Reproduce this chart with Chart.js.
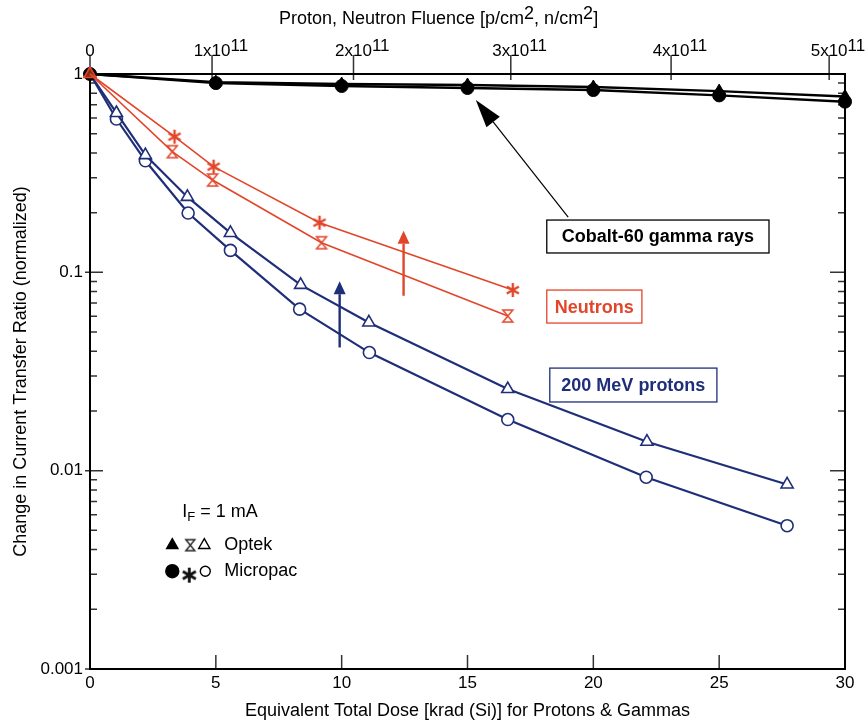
<!DOCTYPE html>
<html><head><meta charset="utf-8">
<script src="https://cdn.jsdelivr.net/npm/chart.js@4.4.0/dist/chart.umd.min.js"></script>
<style>html,body{margin:0;padding:0;background:#fff}#wrap{width:866px;height:723px}</style>
</head><body><div id="wrap"><canvas id="c" width="866" height="723"></canvas></div>
<script>
// ---------- data ----------
const doseTicks = [0, 5, 10, 15, 20, 25, 30];
const fluenceLabels = ['0', '1x10^11', '2x10^11', '3x10^11', '4x10^11', '5x10^11'];
const fluenceTickDose = [0, 4.85, 10.47, 16.72, 23.09, 29.37];
const ratioTicks = [1, 0.1, 0.01, 0.001];

const cobaltDose = [0, 5, 10, 15, 20, 25, 30];
const cobaltOptek = [1, 0.91, 0.89, 0.88, 0.86, 0.82, 0.77];
const cobaltMicropac = [1, 0.90, 0.87, 0.85, 0.83, 0.78, 0.725];

const neutronOptekDose = [0, 3.27, 4.87, 9.2, 16.6];
const neutronOptek = [1, 0.406, 0.292, 0.141, 0.0602];
const neutronMicropacDose = [0, 3.36, 4.91, 9.12, 16.8];
const neutronMicropac = [1, 0.483, 0.341, 0.178, 0.0814];

const protonOptekDose = [0, 1.05, 2.2, 3.87, 5.58, 8.37, 11.08, 16.6, 22.13, 27.7];
const protonOptek = [1, 0.636, 0.39, 0.24, 0.158, 0.0864, 0.0559, 0.0258, 0.0140, 0.00852];
const protonMicropacDose = [0, 1.05, 2.2, 3.9, 5.58, 8.33, 11.1, 16.6, 22.1, 27.7];
const protonMicropac = [1, 0.593, 0.365, 0.199, 0.129, 0.0652, 0.0394, 0.0181, 0.00927, 0.00528];

const topTitle = 'Proton, Neutron Fluence [p/cm^2, n/cm^2]';

// ---------- styles ----------
const FONT = "'Liberation Sans', Arial, Helvetica, sans-serif";
const RED = '#E2462A', BLUE = '#1F2E78', BLACK = '#000';

function pts(xs, ys) { return xs.map((x, i) => ({x: x, y: ys[i]})); }

function makeHourglass(color, w, h, lw) {
  const c = document.createElement('canvas');
  c.width = w + 4; c.height = h + 4;
  const g = c.getContext('2d');
  g.strokeStyle = color; g.lineWidth = lw; g.lineJoin = 'miter';
  const l = 2, r = w + 2, t = 2, b = h + 2;
  g.beginPath(); g.moveTo(l, t); g.lineTo(r, t); g.lineTo(l, b); g.lineTo(r, b); g.closePath(); g.stroke();
  return c;
}
function makeAsterisk(color, r, lw) {
  const s = Math.ceil(r * 2 + 4);
  const c = document.createElement('canvas');
  c.width = s; c.height = s;
  const g = c.getContext('2d');
  g.strokeStyle = color; g.lineWidth = lw; g.lineCap = 'butt';
  const cx = s / 2, cy = s / 2;
  g.beginPath();
  [90, 30, 150].forEach(a => {
    const rad = a * Math.PI / 180;
    g.moveTo(cx - r * Math.cos(rad), cy - r * Math.sin(rad));
    g.lineTo(cx + r * Math.cos(rad), cy + r * Math.sin(rad));
  });
  g.stroke();
  return c;
}
const hourRed = makeHourglass(RED, 10, 12, 1.5);
const starRed = makeAsterisk(RED, 7, 2.4);
const hourBlack = makeHourglass('#222', 9, 11, 1.4);
const starBlack = makeAsterisk('#111', 7.5, 2.8);

Chart.defaults.font.family = FONT;
Chart.defaults.color = '#000';

// draw "a^b" style text with raised same-size superscripts; align: 'base-center' centers the first base part
function drawSup(ctx, str, x, y, size, mode) {
  const parts = [];
  str.split(/(\^\d+)/).forEach(p => { if (p) parts.push(p[0] === '^' ? {t: p.slice(1), sup: true} : {t: p, sup: false}); });
  ctx.font = size + 'px ' + FONT;
  const widths = parts.map(p => ctx.measureText(p.t).width);
  const total = widths.reduce((a, b) => a + b, 0);
  let cx;
  if (mode === 'base') cx = x - widths[0] / 2; else cx = x - total / 2;
  ctx.textAlign = 'left'; ctx.textBaseline = 'middle';
  parts.forEach((p, i) => { ctx.fillText(p.t, cx, p.sup ? y - 5 : y); cx += widths[i]; });
}

// ---------- plugins ----------
const framePlugin = {
  id: 'frame',
  beforeDatasetsDraw(chart) {
    const {ctx, chartArea: a, scales} = chart;
    const x = scales.x, x2 = scales.x2, y = scales.y;
    ctx.save();
    ctx.strokeStyle = '#333'; ctx.lineWidth = 1.5;
    ctx.beginPath();
    doseTicks.forEach(v => { const p = x.getPixelForValue(v); ctx.moveTo(p, a.bottom); ctx.lineTo(p, a.bottom - 14); });
    fluenceTickDose.forEach(v => { const p = x2.getPixelForValue(v); ctx.moveTo(p, a.top - 19); ctx.lineTo(p, a.top + 6); });
    ratioTicks.forEach(v => {
      const p = y.getPixelForValue(v);
      ctx.moveTo(a.left - 5, p); ctx.lineTo(a.left + 13, p);
      ctx.moveTo(a.right - 15, p); ctx.lineTo(a.right, p);
    });
    [0.001, 0.01, 0.1].forEach(d => {
      for (let m = 2; m <= 9; m++) {
        const p = y.getPixelForValue(m * d);
        ctx.moveTo(a.left, p); ctx.lineTo(a.left + 7, p);
        ctx.moveTo(a.right - 7, p); ctx.lineTo(a.right, p);
      }
    });
    ctx.stroke();
    ctx.strokeStyle = '#000'; ctx.lineWidth = 2;
    ctx.strokeRect(a.left, a.top, a.width, a.height);
    // top (fluence) tick labels and title with superscripts
    ctx.fillStyle = '#000';
    fluenceTickDose.forEach((v, i) => drawSup(ctx, fluenceLabels[i], x2.getPixelForValue(v), a.top - 23, 17, 'base'));
    drawSup(ctx, topTitle, x2.getPixelForValue(13.85), 19, 18, 'center');
    ctx.restore();
  }
};

const boxes = [
  {text: 'Cobalt-60 gamma rays', color: BLACK, x0: 18.15, x1: 26.98, y0: 0.1835, y1: 0.1252},
  {text: 'Neutrons', color: RED, x0: 18.15, x1: 21.93, y0: 0.0814, y1: 0.0555},
  {text: '200 MeV protons', color: BLUE, x0: 18.27, x1: 24.91, y0: 0.0329, y1: 0.0222}
];
const arrows = [
  {color: BLACK, x0: 19.0, y0: 0.190, x1: 15.33, y1: 0.7395, lw: 1.2, headLen: 28, headW: 17},
  {color: BLUE, x0: 9.92, y0: 0.0418, x1: 9.92, y1: 0.0902, lw: 2.4, headLen: 13, headW: 12},
  {color: RED, x0: 12.46, y0: 0.0762, x1: 12.46, y1: 0.162, lw: 2.4, headLen: 13, headW: 12}
];
const keyAnchor = {x: 3.27, y: 0.00421};

const notesPlugin = {
  id: 'notes',
  afterDatasetsDraw(chart) {
    const {ctx, scales} = chart;
    const x = scales.x, y = scales.y;
    ctx.save();
    boxes.forEach(b => {
      const l = x.getPixelForValue(b.x0), r = x.getPixelForValue(b.x1);
      const t = y.getPixelForValue(b.y0), bt = y.getPixelForValue(b.y1);
      ctx.fillStyle = '#fff'; ctx.fillRect(l, t, r - l, bt - t);
      ctx.strokeStyle = b.color; ctx.lineWidth = 1.3; ctx.strokeRect(l, t, r - l, bt - t);
      ctx.fillStyle = b.color; ctx.font = 'bold 18px ' + FONT;
      ctx.textAlign = 'center'; ctx.textBaseline = 'middle';
      ctx.fillText(b.text, (l + r) / 2, (t + bt) / 2 + 1);
    });
    arrows.forEach(ar => {
      const sx = x.getPixelForValue(ar.x0), sy = y.getPixelForValue(ar.y0);
      const ex = x.getPixelForValue(ar.x1), ey = y.getPixelForValue(ar.y1);
      const ang = Math.atan2(ey - sy, ex - sx);
      const bx = ex - ar.headLen * Math.cos(ang), by = ey - ar.headLen * Math.sin(ang);
      ctx.strokeStyle = ar.color; ctx.fillStyle = ar.color; ctx.lineWidth = ar.lw;
      ctx.beginPath(); ctx.moveTo(sx, sy); ctx.lineTo(bx, by); ctx.stroke();
      const px = -Math.sin(ang) * ar.headW / 2, py = Math.cos(ang) * ar.headW / 2;
      ctx.beginPath(); ctx.moveTo(ex, ey); ctx.lineTo(bx + px, by + py); ctx.lineTo(bx - px, by - py); ctx.closePath(); ctx.fill();
    });
    const ax = x.getPixelForValue(keyAnchor.x), ay = y.getPixelForValue(keyAnchor.y);
    const draw = Chart.helpers.drawPoint;
    ctx.lineWidth = 1.4;
    ctx.strokeStyle = '#000'; ctx.fillStyle = '#000';
    draw(ctx, {pointStyle: 'triangle', radius: 6.5, rotation: 0, borderWidth: 1}, ax, ay);
    ctx.drawImage(hourBlack, ax + 18 - hourBlack.width / 2, ay - hourBlack.height / 2);
    ctx.fillStyle = '#fff'; ctx.lineWidth = 1.4;
    draw(ctx, {pointStyle: 'triangle', radius: 6.5, rotation: 0, borderWidth: 1.4}, ax + 32, ay);
    ctx.fillStyle = '#000';
    draw(ctx, {pointStyle: 'circle', radius: 6.5, rotation: 0, borderWidth: 1}, ax, ay + 26);
    ctx.drawImage(starBlack, ax + 17 - starBlack.width / 2, ay + 30 - starBlack.height / 2);
    ctx.fillStyle = '#fff';
    draw(ctx, {pointStyle: 'circle', radius: 5, rotation: 0, borderWidth: 1.4}, ax + 33, ay + 26);
    ctx.fillStyle = '#000';
    ctx.font = '18px ' + FONT; ctx.textAlign = 'left'; ctx.textBaseline = 'middle';
    ctx.fillText('Optek', ax + 52, ay);
    ctx.fillText('Micropac', ax + 52, ay + 26);
    let tx = ax + 10; const ty = ay - 33;
    ctx.fillText('I', tx, ty); tx += ctx.measureText('I').width;
    ctx.font = '13px ' + FONT; ctx.fillText('F', tx, ty + 5); tx += ctx.measureText('F').width;
    ctx.font = '18px ' + FONT; ctx.fillText(' = 1 mA', tx, ty);
    ctx.restore();
  }
};

// ---------- chart ----------
const tickFont = {size: 17, family: FONT};
new Chart(document.getElementById('c'), {
  type: 'line',
  data: {
    datasets: [
      {label: 'Neutrons Optek', data: pts(neutronOptekDose, neutronOptek), borderColor: RED, borderWidth: 1.6,
        pointStyle: c => c.dataIndex === 0 ? 'triangle' : hourRed, pointRadius: 7, pointBorderColor: RED, pointBackgroundColor: 'rgba(226,70,42,0.6)', pointBorderWidth: 1.5, clip: false, tension: 0},
      {label: 'Neutrons Micropac', data: pts(neutronMicropacDose, neutronMicropac), borderColor: RED, borderWidth: 1.6,
        pointStyle: starRed, pointRadius: c => c.dataIndex === 0 ? 0 : 7, pointBorderColor: RED, clip: false, tension: 0},
      {label: 'Cobalt Optek', data: pts(cobaltDose, cobaltOptek), borderColor: BLACK, borderWidth: 2.4,
        pointStyle: 'triangle', pointRadius: 7, pointBackgroundColor: BLACK, pointBorderColor: BLACK, pointBorderWidth: 1, clip: false, tension: 0},
      {label: 'Cobalt Micropac', data: pts(cobaltDose, cobaltMicropac), borderColor: BLACK, borderWidth: 2.4,
        pointStyle: 'circle', pointRadius: 6.5, pointBackgroundColor: BLACK, pointBorderColor: BLACK, pointBorderWidth: 1, clip: false, tension: 0},
      {label: 'Protons Optek', data: pts(protonOptekDose, protonOptek), borderColor: BLUE, borderWidth: 2.2,
        pointStyle: 'triangle', pointRadius: c => c.dataIndex === 0 ? 0 : 7, pointBackgroundColor: '#fff', pointBorderColor: BLUE, pointBorderWidth: 1.6, clip: false, tension: 0},
      {label: 'Protons Micropac', data: pts(protonMicropacDose, protonMicropac), borderColor: BLUE, borderWidth: 2.2,
        pointStyle: 'circle', pointRadius: c => c.dataIndex === 0 ? 0 : 6, pointBackgroundColor: '#fff', pointBorderColor: BLUE, pointBorderWidth: 1.6, clip: false, tension: 0}
    ]
  },
  options: {
    responsive: false, animation: false, devicePixelRatio: 1,
    layout: {padding: {left: 0, right: 21, top: 0, bottom: 0}},
    plugins: {legend: {display: false}, tooltip: {enabled: false}},
    scales: {
      x: {
        type: 'linear', position: 'bottom', min: 0, max: 30,
        afterBuildTicks: s => { s.ticks = doseTicks.map(v => ({value: v})); },
        afterFit: s => { s.height = 54; },
        grid: {display: false, drawTicks: false}, border: {display: false},
        ticks: {padding: 4, color: '#000', font: tickFont, maxRotation: 0, autoSkip: false},
        title: {display: true, text: 'Equivalent Total Dose [krad (Si)] for Protons & Gammas', color: '#000', font: {size: 18, family: FONT}, padding: {top: 0, bottom: 1}}
      },
      x2: {
        type: 'linear', position: 'top', min: 0, max: 30,
        afterBuildTicks: s => { s.ticks = fluenceTickDose.map(v => ({value: v})); },
        afterFit: s => { s.height = 74; },
        grid: {display: false, drawTicks: false}, border: {display: false},
        ticks: {display: false}
      },
      y: {
        type: 'logarithmic', position: 'left', min: 0.001, max: 1,
        afterBuildTicks: s => { s.ticks = ratioTicks.map(v => ({value: v})); },
        afterFit: s => { s.width = 90; },
        grid: {display: false, drawTicks: false}, border: {display: false},
        ticks: {padding: 7, color: '#000', font: tickFont, autoSkip: false, callback: v => String(v)},
        title: {display: true, text: 'Change in Current Transfer Ratio (normalized)', color: '#000', font: {size: 18, family: FONT}, padding: {top: 10, bottom: 0}}
      }
    }
  },
  plugins: [framePlugin, notesPlugin]
});
</script>
</body></html>
